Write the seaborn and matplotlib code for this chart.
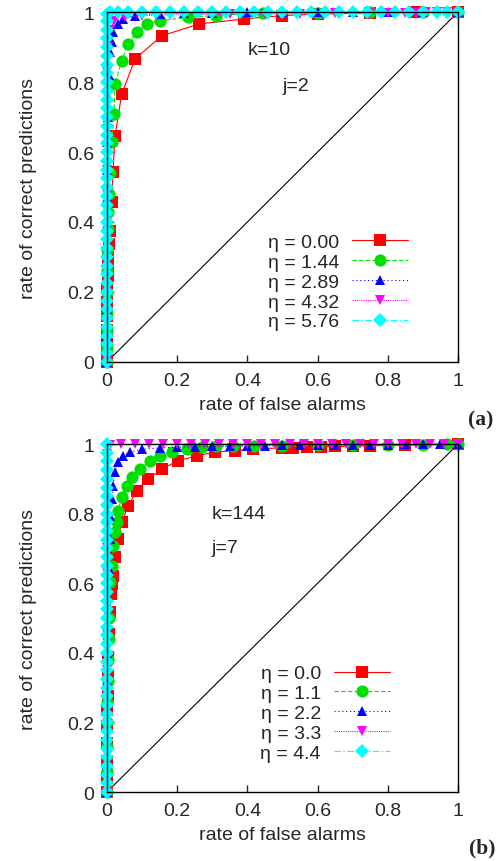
import pandas as pd
import seaborn as sns
import matplotlib.pyplot as plt

sns.set_style('white')
plt.rcParams['font.family'] = ['Liberation Sans', 'DejaVu Sans']

# ---- panel (a): k=10, j=2 ----
red_a_x = [0.000, 0.000, 0.000, 0.000, 0.000, 0.000, 0.001, 0.002, 0.003, 0.004, 0.006, 0.009, 0.013,
           0.017, 0.023, 0.042, 0.080, 0.156, 0.263, 0.390, 0.500, 0.600, 0.750, 0.880, 1.000]
red_a_y = [0.000, 0.020, 0.050, 0.090, 0.130, 0.170, 0.210, 0.246, 0.275, 0.300, 0.337, 0.374, 0.457,
           0.543, 0.647, 0.766, 0.866, 0.932, 0.966, 0.980, 0.990, 0.994, 0.997, 0.999, 1.000]

green_a_x = [0.000, 0.000, 0.000, 0.000, 0.000, 0.000, 0.001, 0.002, 0.003, 0.005, 0.008, 0.013, 0.020,
             0.023, 0.042, 0.061, 0.085, 0.113, 0.151, 0.230, 0.310, 0.445, 0.600, 0.750, 0.900, 1.000]
green_a_y = [0.000, 0.040, 0.090, 0.140, 0.200, 0.260, 0.320, 0.380, 0.430, 0.480, 0.540, 0.628, 0.709,
             0.794, 0.861, 0.909, 0.942, 0.966, 0.975, 0.985, 0.990, 0.997, 0.998, 0.999, 1.000, 1.000]

blue_a_x = [0.000, 0.000, 0.000, 0.000, 0.000, 0.000, 0.000, 0.000, 0.001, 0.002, 0.004, 0.006, 0.009,
            0.013, 0.018, 0.032, 0.046, 0.080, 0.150, 0.220, 0.300, 0.400, 0.500, 0.600, 0.700, 0.800,
            0.900, 1.000]
blue_a_y = [0.000, 0.070, 0.150, 0.230, 0.310, 0.390, 0.470, 0.550, 0.630, 0.700, 0.760, 0.820, 0.886,
            0.914, 0.943, 0.966, 0.980, 0.990, 0.995, 0.997, 0.998, 0.999, 1.000, 1.000, 1.000, 1.000,
            1.000, 1.000]

magenta_a_x = [0.000, 0.000, 0.000, 0.000, 0.000, 0.000, 0.000, 0.000, 0.000, 0.000, 0.000, 0.000,
               0.001, 0.003, 0.008, 0.020, 0.050, 0.100, 0.180, 0.260, 0.350, 0.450, 0.550, 0.650,
               0.750, 0.800, 0.850, 0.880, 0.910, 0.940, 0.970, 1.000]
magenta_a_y = [0.000, 0.060, 0.130, 0.200, 0.270, 0.340, 0.410, 0.480, 0.550, 0.620, 0.690, 0.760,
               0.830, 0.900, 0.950, 0.975, 0.985, 0.990, 0.992, 0.993, 0.994, 0.995, 0.995, 0.996,
               0.997, 0.997, 0.998, 0.998, 0.999, 0.999, 1.000, 1.000]

cyan_a_x = [0.000, 0.000, 0.000, 0.000, 0.000, 0.000, 0.000, 0.000, 0.000, 0.000, 0.000, 0.000, 0.000,
            0.000, 0.000, 0.000, 0.000, 0.000, 0.000, 0.000, 0.000, 0.000, 0.000, 0.000, 0.000, 0.000,
            0.000, 0.000, 0.000, 0.000, 0.000, 0.000, 0.000, 0.000, 0.000, 0.000, 0.000, 0.000, 0.000,
            0.000, 0.000, 0.010, 0.030, 0.060, 0.100, 0.140, 0.180, 0.220, 0.260, 0.300, 0.340, 0.380,
            0.420, 0.460, 0.500, 0.540, 0.580, 0.620, 0.660, 0.700, 0.740, 0.780, 0.820, 0.860, 0.900,
            0.940, 0.970, 1.000]
cyan_a_y = [0.000, 0.025, 0.050, 0.075, 0.100, 0.125, 0.150, 0.175, 0.200, 0.225, 0.250, 0.275, 0.300,
            0.325, 0.350, 0.375, 0.400, 0.425, 0.450, 0.475, 0.500, 0.525, 0.550, 0.575, 0.600, 0.625,
            0.650, 0.675, 0.700, 0.725, 0.750, 0.775, 0.800, 0.825, 0.850, 0.875, 0.900, 0.925, 0.950,
            0.975, 0.995, 1.000, 1.000, 1.000, 1.000, 1.000, 1.000, 1.000, 1.000, 1.000, 1.000, 1.000,
            1.000, 1.000, 1.000, 1.000, 1.000, 1.000, 1.000, 1.000, 1.000, 1.000, 1.000, 1.000, 1.000,
            1.000, 1.000, 1.000]

eta_a = ['0.00', '1.44', '2.89', '4.32', '5.76']

# ---- panel (b): k=144, j=7 ----
red_b_x = [0.000, 0.000, 0.000, 0.000, 0.000, 0.001, 0.002, 0.003, 0.004, 0.006, 0.009, 0.011, 0.013,
           0.017, 0.023, 0.032, 0.042, 0.061, 0.085, 0.117, 0.156, 0.202, 0.256, 0.308, 0.365, 0.416,
           0.498, 0.530, 0.570, 0.610, 0.650, 0.700, 0.750, 0.850, 1.000]
red_b_y = [0.000, 0.040, 0.090, 0.140, 0.190, 0.235, 0.276, 0.333, 0.388, 0.454, 0.517, 0.569, 0.598,
           0.621, 0.675, 0.727, 0.776, 0.823, 0.866, 0.899, 0.928, 0.952, 0.966, 0.977, 0.981, 0.986,
           0.989, 0.990, 0.991, 0.992, 0.993, 0.994, 0.995, 0.997, 1.000]

green_b_x = [0.000, 0.000, 0.000, 0.000, 0.001, 0.002, 0.003, 0.005, 0.007, 0.009, 0.013, 0.018, 0.023,
             0.028, 0.032, 0.042, 0.056, 0.070, 0.094, 0.122, 0.151, 0.184, 0.227, 0.270, 0.310, 0.360,
             0.420, 0.500, 0.600, 0.700, 0.800, 0.900, 0.970, 1.000]
green_b_y = [0.000, 0.060, 0.130, 0.200, 0.260, 0.320, 0.380, 0.440, 0.500, 0.603, 0.650, 0.708, 0.747,
             0.776, 0.808, 0.848, 0.880, 0.905, 0.928, 0.952, 0.966, 0.977, 0.986, 0.991, 0.993, 0.994,
             0.995, 0.995, 0.996, 0.996, 0.997, 0.998, 0.999, 1.000]

blue_b_x = [0.000, 0.000, 0.000, 0.000, 0.000, 0.000, 0.001, 0.003, 0.006, 0.009, 0.009, 0.013, 0.017,
            0.023, 0.032, 0.046, 0.066, 0.100, 0.150, 0.200, 0.250, 0.300, 0.350, 0.400, 0.450, 0.500,
            0.550, 0.600, 0.650, 0.700, 0.750, 0.800, 0.850, 0.900, 0.950, 1.000]
blue_b_y = [0.000, 0.080, 0.160, 0.240, 0.320, 0.400, 0.480, 0.560, 0.640, 0.727, 0.794, 0.842, 0.880,
            0.920, 0.948, 0.966, 0.977, 0.985, 0.989, 0.991, 0.992, 0.993, 0.994, 0.995, 0.995, 0.996,
            0.996, 0.997, 0.997, 0.998, 0.998, 0.998, 0.999, 0.999, 1.000, 1.000]

magenta_b_x = [0.000, 0.000, 0.000, 0.000, 0.000, 0.000, 0.000, 0.000, 0.000, 0.000, 0.000, 0.000,
               0.000, 0.000, 0.000, 0.010, 0.040, 0.080, 0.120, 0.160, 0.200, 0.240, 0.280, 0.320,
               0.360, 0.400, 0.440, 0.480, 0.520, 0.560, 0.600, 0.640, 0.680, 0.720, 0.760, 0.800,
               0.840, 0.880, 0.920, 0.960, 1.000]
magenta_b_y = [0.000, 0.070, 0.140, 0.210, 0.280, 0.350, 0.420, 0.490, 0.560, 0.630, 0.700, 0.770,
               0.840, 0.910, 0.970, 0.998, 0.999, 0.999, 0.999, 0.999, 1.000, 1.000, 1.000, 1.000,
               1.000, 1.000, 1.000, 1.000, 1.000, 1.000, 1.000, 1.000, 1.000, 1.000, 1.000, 1.000,
               1.000, 1.000, 1.000, 1.000, 1.000]

cyan_b_x = [0.000, 0.000, 0.000, 0.000, 0.000, 0.000, 0.000, 0.000, 0.000, 0.000, 0.000, 0.000, 0.000,
            0.000, 0.000, 0.000, 0.000, 0.000, 0.000, 0.000, 0.000, 0.000, 0.000, 0.000, 0.000, 0.000,
            0.000, 0.000, 0.000, 0.000, 0.000, 0.000, 0.000, 0.000, 0.000, 0.000, 0.000, 0.000, 0.000,
            0.000, 0.000]
cyan_b_y = [0.000, 0.025, 0.050, 0.075, 0.100, 0.125, 0.150, 0.175, 0.200, 0.225, 0.250, 0.275, 0.300,
            0.325, 0.350, 0.375, 0.400, 0.425, 0.450, 0.475, 0.500, 0.525, 0.550, 0.575, 0.600, 0.625,
            0.650, 0.675, 0.700, 0.725, 0.750, 0.775, 0.800, 0.825, 0.850, 0.875, 0.900, 0.925, 0.950,
            0.975, 1.000]

eta_b = ['0.0', '1.1', '2.2', '3.3', '4.4']

ticks = [0, 0.2, 0.4, 0.6, 0.8, 1]
tick_labels = ['0', '0.2', '0.4', '0.6', '0.8', '1']

# colour, linestyle, marker, markersize per series (gnuplot defaults)
styles = [
    ('#ff0000', '-', 's', 8.5),
    ('#00e000', (0, (4, 2)), 'o', 8.8),
    ('#0000ff', (0, (1, 2.5)), '^', 7.5),
    ('#ff00ff', (0, (1, 1)), 'v', 7.5),
    ('#00ffff', (0, (6, 2, 1.5, 2)), 'D', 7.2),
]

FS = 14


def draw_panel(ax, series, etas, k_txt, j_txt, k_pos, j_pos, leg_anchor):
    ax.plot([0, 1], [0, 1], color='black', lw=0.8)
    handles = []
    for (xs, ys), (c, ls, m, ms) in zip(series, styles):
        df = pd.DataFrame({'fpr': xs, 'tpr': ys})
        sns.lineplot(data=df, x='fpr', y='tpr', ax=ax, sort=False, estimator=None,
                     color=c, linestyle=ls, lw=0.8, marker=m, markersize=ms,
                     markeredgewidth=0, clip_on=False)
        handles.append(ax.lines[-1])
    labels = ['η = ' + e for e in etas]
    ax.legend(handles, labels, loc='lower right', bbox_to_anchor=leg_anchor, frameon=False,
              markerfirst=False, handlelength=2.9, handletextpad=0.65, labelspacing=0.12,
              borderpad=0, borderaxespad=0, fontsize=FS)
    ax.text(k_pos[0], k_pos[1], k_txt, transform=ax.transAxes, fontsize=FS, va='center', ha='left')
    ax.text(j_pos[0], j_pos[1], j_txt, transform=ax.transAxes, fontsize=FS, va='center', ha='left')
    ax.set_xlim(0, 1)
    ax.set_ylim(0, 1)
    ax.set_xticks(ticks)
    ax.set_yticks(ticks)
    ax.set_xticklabels(tick_labels)
    ax.set_yticklabels(tick_labels)
    ax.tick_params(axis='both', direction='in', length=5, width=1, labelsize=FS,
                   bottom=True, left=True, top=False, right=False)
    ax.tick_params(axis='x', pad=7)
    ax.tick_params(axis='y', pad=9)
    ax.set_xlabel('rate of false alarms', fontsize=FS, labelpad=5)
    ax.set_ylabel('rate of correct predictions', fontsize=FS, labelpad=22)
    for s in ax.spines.values():
        s.set_color('black')
        s.set_linewidth(1)


fig = plt.figure(figsize=(4.96, 8.62), dpi=100)
ax1 = fig.add_axes([0.2157, 0.5789, 0.7077, 0.4060])
ax2 = fig.add_axes([0.2157, 0.0800, 0.7077, 0.4037])

draw_panel(ax1,
           [(red_a_x, red_a_y), (green_a_x, green_a_y), (blue_a_x, blue_a_y),
            (magenta_a_x, magenta_a_y), (cyan_a_x, cyan_a_y)],
           eta_a, 'k=10', 'j=2', (0.402, 0.894), (0.50, 0.789), (0.858, 0.09))
draw_panel(ax2,
           [(red_b_x, red_b_y), (green_b_x, green_b_y), (blue_b_x, blue_b_y),
            (magenta_b_x, magenta_b_y), (cyan_b_x, cyan_b_y)],
           eta_b, 'k=144', 'j=7', (0.299, 0.799), (0.299, 0.704), (0.806, 0.086))

fig.text(481 / 496, 1 - 420 / 862, '(a)', fontsize=15.5, fontweight='bold', family='Liberation Serif',
         ha='center', va='center')
fig.text(482 / 496, 1 - 848 / 862, '(b)', fontsize=15.5, fontweight='bold', family='Liberation Serif',
         ha='center', va='center')

fig.savefig('out.png', dpi=100)
